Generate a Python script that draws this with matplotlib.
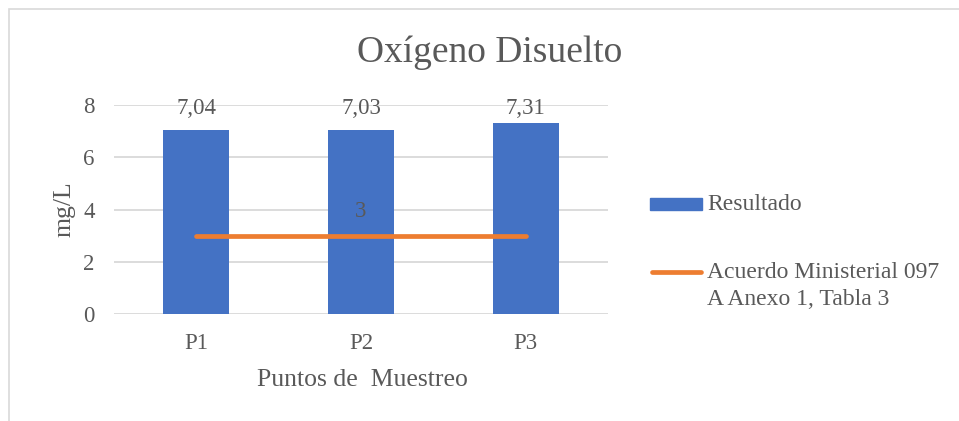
import matplotlib.pyplot as plt
from matplotlib.patches import Rectangle
from matplotlib.lines import Line2D
import numpy as np

# datos
puntos = ['P1', 'P2', 'P3']
resultado = [7.04, 7.03, 7.31]
limite = [3, 3, 3]
yticks = [0, 2, 4, 6, 8]
leyenda = ['Resultado', 'Acuerdo Ministerial 097\nA Anexo 1, Tabla 3']

AZUL = '#4472C4'
NARANJA = '#ED7D31'
GRIS = '#595959'
GRID = '#D9D9D9'

plt.rcParams['font.family'] = ['Liberation Serif', 'DejaVu Serif']

fig = plt.figure(figsize=(9.59, 4.21), dpi=100)
W, H = 959, 421

def fx(px):
    return px / W

def fy(py):
    return 1 - py / H

# marco del grafico (cortado a la derecha y abajo)
fig.patches.append(Rectangle((fx(9), -0.1), 1.2, fy(9) + 0.1,
                             transform=fig.transFigure, fill=False,
                             edgecolor=GRID, linewidth=1.2))

ax = fig.add_axes([fx(114), fy(314), (608 - 114) / W, (314 - 105) / H])
x = np.arange(len(puntos))

ax.bar(x, resultado, width=0.4, color=AZUL, zorder=2)
ax.plot(x, limite, color=NARANJA, linewidth=3.4, solid_capstyle='round', zorder=3)

# etiquetas de datos (Excel las mantiene dentro del area)
for xi, v in zip(x, resultado):
    ax.text(xi, min(v + 0.92, 7.88), f'{v:.2f}'.replace('.', ','),
            ha='center', va='center', fontsize=16.5, color=GRIS)
ax.text(x[1], limite[1] + 0.92, f'{limite[1]}', ha='center', va='center',
        fontsize=16.5, color=GRIS)

ax.set_xlim(-0.5, 2.5)
ax.set_ylim(0, 8)
ax.set_yticks(yticks)
ax.set_xticks(x)
ax.set_xticklabels(puntos)
ax.tick_params(length=0, labelsize=16.5, colors=GRIS)
ax.tick_params(axis='y', pad=14)
ax.tick_params(axis='x', pad=14)
ax.yaxis.grid(True, color=GRID, linewidth=1.3, zorder=0)
ax.set_axisbelow(True)
for s in ax.spines.values():
    s.set_visible(False)

ax.set_xlabel('Puntos de  Muestreo', fontsize=18.5, color=GRIS, va='center')
ax.xaxis.set_label_coords(0.503, -0.316)
ax.set_ylabel('mg/L', fontsize=18.5, color=GRIS, va='center')
ax.yaxis.set_label_coords(-0.1, 0.5)

fig.text(fx(490), fy(53), 'Oxígeno Disuelto', fontsize=27, color=GRIS,
         ha='center', va='center')

# leyenda a la derecha
fig.patches.append(Rectangle((fx(650), fy(210)), (702 - 650) / W, 12 / H,
                             transform=fig.transFigure, color=AZUL))
fig.lines.append(Line2D([fx(652), fx(701)], [fy(272), fy(272)],
                        transform=fig.transFigure, color=NARANJA,
                        linewidth=3.4, solid_capstyle='round'))
fig.text(fx(707), fy(204), leyenda[0], fontsize=17, color=GRIS,
         ha='left', va='center')
fig.text(fx(707), fy(286), leyenda[1], fontsize=17, color=GRIS,
         ha='left', va='center', linespacing=1.4)

fig.savefig('out.png', dpi=100)
